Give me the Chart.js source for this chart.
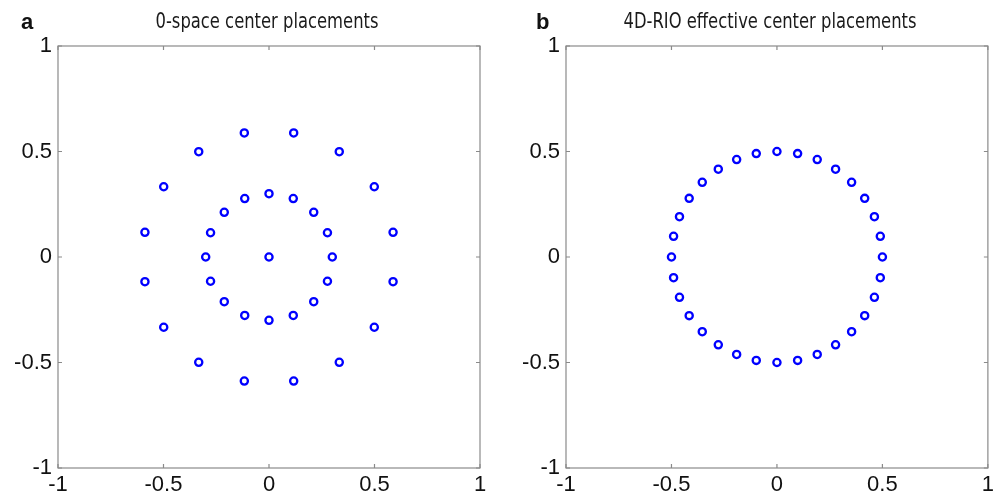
<!DOCTYPE html>
<html>
<head>
<meta charset="utf-8">
<script src="https://cdn.jsdelivr.net/npm/chart.js@4"></script>
<style>
  html, body { margin: 0; padding: 0; background: #fff; }
  #wrap { width: 998px; height: 498px; display: flex; }
  .painel { position: relative; width: 499px; height: 498px; }
</style>
</head>
<body>
<div id="wrap">
  <div class="painel"><canvas id="chartA"></canvas></div>
  <div class="painel"><canvas id="chartB"></canvas></div>
</div>
<script>
// ---- dados ----
var tickVals = [-1, -0.5, 0, 0.5, 1];
var tickLabels = ["-1", "-0.5", "0", "0.5", "1"];

// painel a: centro + anel interno (r~0.3) + anel externo (r~0.6)
var aX = [0,
  0, 0.115, 0.212, 0.277, 0.3, 0.277, 0.212, 0.115, 0, -0.115, -0.212, -0.277, -0.3, -0.277, -0.212, -0.115,
  0.117, 0.333, 0.499, 0.588, 0.588, 0.499, 0.333, 0.117, -0.117, -0.333, -0.499, -0.588, -0.588, -0.499, -0.333, -0.117];
var aY = [0,
  0.3, 0.277, 0.212, 0.115, 0, -0.115, -0.212, -0.277, -0.3, -0.277, -0.212, -0.115, 0, 0.115, 0.212, 0.277,
  0.588, 0.499, 0.333, 0.117, -0.117, -0.333, -0.499, -0.588, -0.588, -0.499, -0.333, -0.117, 0.117, 0.333, 0.499, 0.588];

// painel b: 32 centros efetivos num círculo r~0.5
var bX = [0, 0.098, 0.191, 0.278, 0.354, 0.416, 0.462, 0.490, 0.5, 0.490, 0.462, 0.416, 0.354, 0.278, 0.191, 0.098,
  0, -0.098, -0.191, -0.278, -0.354, -0.416, -0.462, -0.490, -0.5, -0.490, -0.462, -0.416, -0.354, -0.278, -0.191, -0.098];
var bY = [0.5, 0.490, 0.462, 0.416, 0.354, 0.278, 0.191, 0.098, 0, -0.098, -0.191, -0.278, -0.354, -0.416, -0.462, -0.490,
  -0.5, -0.490, -0.462, -0.416, -0.354, -0.278, -0.191, -0.098, 0, 0.098, 0.191, 0.278, 0.354, 0.416, 0.462, 0.490];

var fonteTick = { family: "Liberation Sans, Arial, sans-serif", size: 22 };
var corEixo = "#8a8a8a";

function rotulo(v) {
  var i = tickVals.indexOf(v);
  return i >= 0 ? tickLabels[i] : "";
}

// moldura cinza + ticks para dentro (estilo matlab) + título condensado + letra
var molduraPlugin = {
  id: "moldura",
  afterDraw: function(chart) {
    var ctx = chart.ctx, a = chart.chartArea;
    var sx = chart.scales.x, sy = chart.scales.y;
    var op = chart.options.plugins.moldura;
    ctx.save();
    ctx.strokeStyle = corEixo;
    ctx.lineWidth = 1.2;
    ctx.strokeRect(a.left, a.top, a.right - a.left, a.bottom - a.top);
    ctx.beginPath();
    tickVals.forEach(function(v) {
      var px = sx.getPixelForValue(v), py = sy.getPixelForValue(v);
      ctx.moveTo(px, a.bottom); ctx.lineTo(px, a.bottom - 4);
      ctx.moveTo(px, a.top); ctx.lineTo(px, a.top + 4);
      ctx.moveTo(a.left, py); ctx.lineTo(a.left + 4, py);
      ctx.moveTo(a.right, py); ctx.lineTo(a.right - 4, py);
    });
    ctx.stroke();

    // título: fonte estreita (escala horizontal)
    ctx.fillStyle = "#1a1a1a";
    ctx.font = "21px DejaVu Sans, sans-serif";
    ctx.textAlign = "center";
    ctx.textBaseline = "alphabetic";
    ctx.save();
    ctx.translate(op.tituloX, 28);
    ctx.scale(0.78, 1);
    ctx.fillText(op.titulo, 0, 0);
    ctx.restore();

    // letra do painel
    ctx.fillStyle = "#111";
    ctx.textAlign = "left";
    ctx.font = "bold 22px Liberation Sans, Arial, sans-serif";
    ctx.fillText(op.letra, op.letraX, 29);
    ctx.restore();
  }
};

function montaGrafico(id, xs, ys, titulo, tituloX, letra, letraX, largY, padDir) {
  var pontos = xs.map(function(x, i) { return { x: x, y: ys[i] }; });
  return new Chart(document.getElementById(id), {
    type: "scatter",
    data: {
      datasets: [{
        data: pontos,
        pointStyle: "circle",
        pointRadius: 3.6,
        pointBorderWidth: 2.3,
        pointBorderColor: "#0000ff",
        pointBackgroundColor: "rgba(255,255,255,0)",
        pointHoverRadius: 3.6
      }]
    },
    options: {
      responsive: true, maintainAspectRatio: false, animation: false,
      layout: { padding: { left: 0, right: padDir, top: 46, bottom: 0 } },
      plugins: {
        legend: { display: false },
        tooltip: { enabled: false },
        title: { display: false },
        moldura: { letra: letra, letraX: letraX, titulo: titulo, tituloX: tituloX }
      },
      scales: {
        x: {
          type: "linear", min: -1, max: 1,
          afterBuildTicks: function(s) { s.ticks = tickVals.map(function(v) { return { value: v }; }); },
          afterFit: function(s) { s.height = 30; },
          grid: { display: false, drawTicks: false },
          border: { display: false },
          ticks: { color: "#111", font: fonteTick, padding: 4, maxRotation: 0, callback: rotulo }
        },
        y: {
          type: "linear", min: -1, max: 1,
          afterBuildTicks: function(s) { s.ticks = tickVals.map(function(v) { return { value: v }; }); },
          afterFit: function(s) { s.width = largY; },
          grid: { display: false, drawTicks: false },
          border: { display: false },
          ticks: { color: "#111", font: fonteTick, padding: 6, callback: rotulo }
        }
      }
    },
    plugins: [molduraPlugin]
  });
}

montaGrafico("chartA", aX, aY, "0-space center placements", 267, "a", 21, 58, 19);
montaGrafico("chartB", bX, bY, "4D-RIO effective center placements", 271, "b", 37, 67, 10);
</script>
</body>
</html>
